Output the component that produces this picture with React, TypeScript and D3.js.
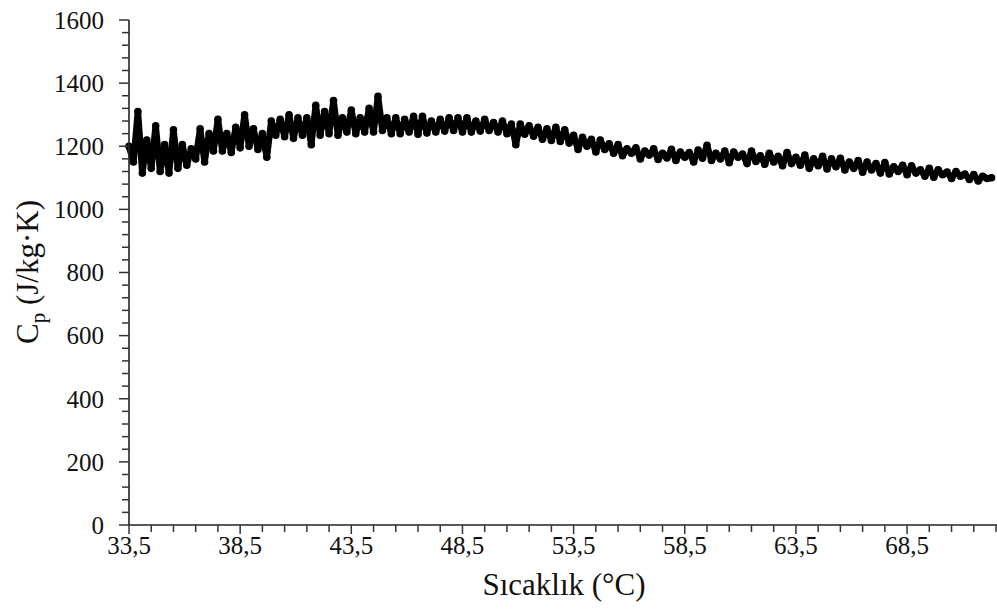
import React from "react";
import * as d3 from "d3";

// Temperature grid: starts at 33.5 °C, one reading every 0.2 °C
const TEMP_START = 33.5;
const TEMP_STEP = 0.2;

// Specific heat readings (J/kg·K)
const cpValues: number[] = [
  1200, 1150, 1310, 1115, 1220,
  1130, 1265, 1120, 1205, 1115,
  1252, 1130, 1205, 1140, 1192,
  1160, 1255, 1150, 1240, 1185,
  1285, 1185, 1240, 1180, 1260,
  1195, 1300, 1200, 1255, 1190,
  1240, 1165, 1280, 1235, 1285,
  1230, 1300, 1225, 1290, 1235,
  1290, 1205, 1330, 1235, 1310,
  1240, 1345, 1235, 1290, 1245,
  1315, 1240, 1290, 1245, 1320,
  1245, 1358, 1250, 1290, 1240,
  1290, 1240, 1285, 1245, 1295,
  1238, 1295, 1242, 1280, 1245,
  1285, 1248, 1290, 1250, 1290,
  1245, 1290, 1245, 1280, 1248,
  1285, 1250, 1275, 1245, 1280,
  1240, 1270, 1205, 1270, 1238,
  1265, 1232, 1260, 1222, 1255,
  1218, 1260, 1215, 1252, 1210,
  1235, 1190, 1228, 1200, 1222,
  1182, 1220, 1190, 1208, 1178,
  1205, 1170, 1192, 1178, 1195,
  1160, 1185, 1172, 1192, 1158,
  1178, 1163, 1190, 1155, 1182,
  1165, 1180, 1150, 1188, 1162,
  1203, 1155, 1178, 1160, 1185,
  1148, 1182, 1165, 1175, 1145,
  1185, 1152, 1170, 1143, 1178,
  1150, 1168, 1138, 1180, 1145,
  1165, 1140, 1172, 1130, 1160,
  1138, 1168, 1128, 1160, 1135,
  1162, 1125, 1150, 1130, 1155,
  1118, 1150, 1125, 1145, 1115,
  1148, 1112, 1135, 1120, 1140,
  1110, 1138, 1115, 1125, 1105,
  1130, 1102, 1125, 1110, 1118,
  1098, 1120, 1105, 1112, 1095,
  1110, 1090, 1105, 1098, 1100,
];

const xMajorTicks = [33.5, 38.5, 43.5, 48.5, 53.5, 58.5, 63.5, 68.5];
const yMajorTicks = [0, 200, 400, 600, 800, 1000, 1200, 1400, 1600];

const X_DOMAIN: [number, number] = [33.5, 72.5];
const Y_DOMAIN: [number, number] = [0, 1600];

const FONT = '"Liberation Serif", "Times New Roman", "DejaVu Serif", serif';

export default function App() {
  const W = 997;
  const H = 611;
  const x = d3.scaleLinear().domain(X_DOMAIN).range([129, 996]);
  const y = d3.scaleLinear().domain(Y_DOMAIN).range([525, 20]);

  const data = cpValues.map((v, i) => ({ t: TEMP_START + i * TEMP_STEP, v }));
  const line = d3
    .line<{ t: number; v: number }>()
    .x((d) => x(d.t))
    .y((d) => y(d.v));

  const xMinor = d3.range(33.5, 72.51, 1);
  const yMinor = d3.range(0, 1601, 40);
  const fmt = (v: number) => v.toFixed(1).replace(".", ",");
  const txt = { fontFamily: FONT, fill: "#111" } as React.CSSProperties;

  return (
    <svg
      width={W}
      height={H}
      style={{ position: "absolute", left: 0, top: 0, background: "#fff" }}
    >
      {/* data */}
      <path d={line(data) || ""} fill="none" stroke="#000" strokeWidth={6.5} strokeLinejoin="round" strokeLinecap="round" />
      {data.map((d, i) => (
        <circle key={i} cx={x(d.t)} cy={y(d.v)} r={3.8} fill="#000" />
      ))}

      {/* y axis */}
      <line x1={129} x2={129} y1={y(1600)} y2={y(0)} stroke="#222" strokeWidth={1.6} />
      {yMinor.map((v) => {
        const major = v % 200 === 0;
        return (
          <line
            key={"ym" + v}
            x1={major ? 119 : 122}
            x2={129}
            y1={y(v)}
            y2={y(v)}
            stroke="#333"
            strokeWidth={1.5}
          />
        );
      })}
      {yMajorTicks.map((v) => (
        <text key={"yl" + v} x={104} y={y(v)} dy="0.35em" textAnchor="end" fontSize={25} style={txt}>
          {v}
        </text>
      ))}

      {/* x axis */}
      <line x1={129} x2={997} y1={y(0)} y2={y(0)} stroke="#222" strokeWidth={1.6} />
      {xMinor.map((t) => {
        const major = xMajorTicks.some((m) => Math.abs(m - t) < 1e-6);
        return (
          <line
            key={"xm" + t}
            x1={x(t)}
            x2={x(t)}
            y1={y(0)}
            y2={y(0) + (major ? 9 : 7)}
            stroke="#333"
            strokeWidth={1.5}
          />
        );
      })}
      {xMajorTicks.map((t) => (
        <text key={"xl" + t} x={x(t)} y={554} textAnchor="middle" fontSize={25} style={txt}>
          {fmt(t)}
        </text>
      ))}

      {/* axis titles */}
      <text x={564} y={595} textAnchor="middle" fontSize={31} style={txt}>
        Sıcaklık (°C)
      </text>
      <text transform="translate(38,272) rotate(-90)" textAnchor="middle" fontSize={31} style={txt}>
        C<tspan fontSize={21} dy={7}>p</tspan>
        <tspan dy={-7}> (J/kg·K)</tspan>
      </text>
    </svg>
  );
}
